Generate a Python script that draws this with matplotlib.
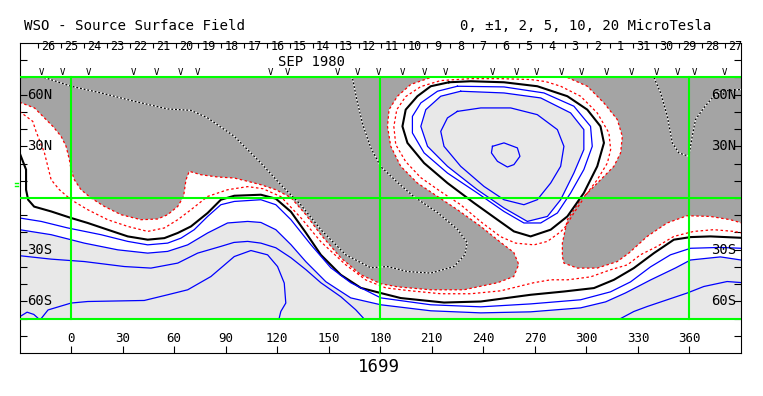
import matplotlib
matplotlib.use('Agg')
import matplotlib.pyplot as plt
import numpy as np

# --- data: (carrington longitude, latitude) ---
rotation = 1699
month_label = 'SEP 1980'
days = [26, 25, 24, 23, 22, 21, 20, 19, 18, 17, 16, 15, 14, 13, 12, 11, 10,
        9, 8, 7, 6, 5, 4, 3, 2, 1, 31, 30, 29, 28, 27]
day_lon0 = -19.1      # longitude of the first day boundary
day_step = 13.32      # degrees of longitude per day
obs_lons = [-17.4, -4.8, 10.1, 36.2, 49.8, 63.4, 73.3, 116.3, 126.2, 155.3,
            166.9, 179.1, 193.1, 205.9, 218.1, 245.4, 259.4, 271.0, 285.5,
            297.2, 311.7, 326.3, 340.8, 353.1, 363.0, 380.4]

# +2 contour, edge of the positive (dark) region
pos2_west = [(-30, 55.6), (-21.3, 52.3), (-15.5, 46.5), (-10.6, 41.6), (-5.8, 35.8),
             (-2.9, 30.0), (-1.0, 22.3), (0.0, 16.5), (1.9, 10.6), (5.8, 4.8),
             (11.6, 0.0), (19.4, -4.9), (29.1, -9.7), (40.7, -12.6), (50.4, -12.2),
             (56.2, -9.7), (62.1, -4.9), (65.5, 0.9), (66.9, 10.6), (68.8, 15.5),
             (75.6, 13.5), (85.3, 12.2), (95.0, 11.6), (102.8, 9.7), (110.5, 7.7),
             (119.2, 4.8), (128.0, 0.2), (136.7, -9.7), (145.4, -21.3), (157.0, -34.7),
             (168.7, -44.6), (180.3, -49.8), (190.2, -51.6), (209.4, -53.3),
             (228.6, -53.3), (248.3, -49.2), (257.7, -45.6), (260.6, -38.6),
             (257.7, -31.6), (250.1, -25.8), (238.5, -16.5), (224.9, -6.8),
             (213.3, 0.9), (201.6, 8.7), (191.9, 18.4), (186.1, 30.0), (184.2, 41.6),
             (185.1, 51.3), (190.0, 59.1), (197.7, 65.9), (209.4, 70)]
pos2_east = [(288.9, 70), (300.5, 64.9), (310.2, 55.2), (318.0, 45.5), (320.9, 35.8),
             (319.9, 26.2), (316.0, 18.4), (304.4, 6.7), (296.6, -1.0), (288.9, -12.6),
             (286.0, -26.2), (286.0, -34.0), (286.9, -37.8), (294.7, -40.7),
             (306.3, -40.7), (318.0, -36.9), (324.7, -32.0), (335.4, -22.3),
             (347.0, -14.5), (358.6, -10.3), (372.1, -10.7), (383.8, -12.6), (390, -14.4)]

# +1 contour
pos1_south = [(-30, 50.3), (-22.3, 44.5), (-20.4, 38.7), (-15.5, 26.2), (-11.6, 10.6),
              (-6.8, 4.8), (0.0, -1.0), (9.7, -6.8), (21.3, -12.6), (33.0, -16.5),
              (44.6, -19.4), (54.3, -17.4), (62.1, -12.6), (69.8, -6.8), (79.5, 0.9),
              (91.1, 4.8), (102.8, 6.6), (111.7, 5.4), (122.1, 0.8), (133.7, -11.4),
              (145.4, -25.4), (159.9, -38.8), (171.6, -47.6), (183.2, -52.2),
              (197.7, -53.9), (215.2, -55.6), (232.6, -55.6), (250.1, -53.9),
              (269.3, -49.2), (279.2, -47.5), (289.1, -47.5), (302.4, -45.8),
              (314.0, -41.7), (323.9, -38.8), (331.4, -33.0), (341.2, -28.1),
              (350.9, -22.3), (362.5, -19.4), (374.1, -18.4), (385.8, -19.4), (390, -20.2)]
pos1_island = [(285.0, 64.9), (296.6, 59.1), (306.3, 49.4), (313.1, 37.8), (314.1, 28.1),
               (312.2, 20.3), (306.3, 10.6), (300.5, 2.9), (292.7, -8.7), (287.9, -16.5),
               (285.0, -19.6), (277.3, -25.2), (269.5, -27.2), (258.8, -26.2),
               (250.1, -22.5), (238.5, -13.8), (226.8, -3.9), (215.2, 3.7), (203.6, 11.8),
               (194.8, 21.1), (189.0, 31.0), (187.9, 41.5), (189.6, 51.3), (194.8, 58.9),
               (203.6, 64.7), (215.2, 68.2), (232.6, 69.3), (250.1, 69.3), (267.5, 68.8),
               (276.3, 67.6), (285.0, 64.9)]

# neutral line (0)
zero_south = [(-30, 26.3), (-26.2, 16.5), (-26.2, 4.8), (-25.0, -1.0), (-21.5, -5.0),
              (-11.6, -7.8), (0.0, -11.6), (9.7, -14.5), (21.3, -18.4), (33.0, -22.3),
              (44.6, -24.2), (54.3, -23.3), (62.1, -20.3), (69.8, -16.5), (79.5, -8.7),
              (87.2, -1.0), (95.0, 1.3), (110.5, 1.9), (119.2, -0.4), (128.0, -8.0),
              (136.7, -20.2), (145.4, -33.0), (157.0, -44.6), (168.7, -52.2),
              (180.3, -55.2), (191.9, -58.1), (217.1, -60.7), (238.5, -60.1),
              (267.5, -56.2), (286.9, -54.3), (304.4, -52.3), (316.0, -47.5),
              (327.6, -40.7), (339.3, -32.0), (350.9, -24.2), (360.6, -22.7),
              (372.2, -22.3), (390, -23.1)]
zero_island = [(220.0, 67.2), (232.7, 67.8), (252.0, 67.2), (271.4, 64.9), (288.9, 59.1),
               (300.5, 51.3), (308.2, 41.6), (310.2, 32.0), (306.3, 18.4), (298.5, 2.9),
               (288.9, -10.7), (279.2, -18.4), (267.5, -22.3), (257.8, -19.4),
               (248.2, -12.6), (234.6, -2.9), (219.1, 8.7), (205.5, 20.3), (195.8, 32.0),
               (192.9, 41.6), (194.8, 51.3), (201.6, 59.1), (209.4, 64.9), (220.0, 67.2)]

# -1 contour
neg1_south = [(-30, -11.6), (-17.4, -13.6), (-1.9, -17.4), (17.4, -21.3), (33.0, -25.2),
              (44.6, -27.2), (56.2, -26.2), (64.0, -23.3), (71.7, -18.4), (79.5, -10.7),
              (87.2, -3.9), (95.0, -2.0), (110.5, -1.0), (119.2, -3.9), (128.0, -12.6),
              (139.6, -27.1), (151.2, -40.5), (162.8, -49.2), (180.3, -58.0),
              (209.4, -62.0), (238.5, -63.2), (267.5, -61.5), (296.6, -59.1),
              (314.0, -54.5), (325.7, -48.7), (337.3, -40.0), (348.9, -33.0),
              (360.6, -29.2), (378.0, -28.7), (390, -29.2)]
neg1_island = [(224.9, 64.9), (252.0, 64.5), (275.3, 61.0), (292.7, 53.3), (302.4, 41.6),
               (303.4, 30.0), (298.5, 16.5), (290.8, 2.9), (283.1, -8.7), (273.4, -14.5),
               (263.6, -14.5), (252.0, -7.8), (236.5, 2.9), (219.1, 14.5), (205.5, 26.2),
               (198.7, 37.8), (198.7, 47.4), (203.6, 55.2), (213.3, 62.0), (224.9, 64.9)]

# -2 contour, edge of the negative (light) region
neg2_south = [(-30, -18.4), (-11.6, -21.3), (7.7, -26.2), (27.2, -30.1), (44.6, -32.0),
              (56.2, -31.0), (67.9, -27.2), (79.5, -20.3), (91.1, -14.5), (102.8, -13.6),
              (110.5, -14.2), (119.2, -18.4), (128.0, -27.1), (136.7, -37.0),
              (148.3, -48.6), (162.8, -58.0), (180.3, -62.0), (209.4, -65.5),
              (238.5, -66.7), (267.5, -66.1), (296.6, -63.8), (311.2, -60.3),
              (322.8, -55.1), (337.3, -47.6), (351.9, -40.6), (360.6, -36.0),
              (378.0, -34.2), (390, -36.0)]
neg2_island = [(226.8, 62.0), (252.0, 61.0), (273.4, 58.1), (290.8, 49.4), (298.5, 39.7),
               (298.5, 28.1), (292.7, 14.5), (285.0, -1.0), (277.3, -10.7), (265.6, -13.6),
               (252.0, -5.8), (236.5, 4.8), (219.1, 18.4), (207.5, 30.0), (203.6, 41.6),
               (206.5, 51.3), (215.2, 59.1), (226.8, 62.0)]

# -5 contour
neg5_west = [(-30, -33.5), (-11.6, -35.5), (7.7, -36.9), (31.0, -39.8), (46.5, -40.7),
             (62.1, -37.8), (73.7, -32.0), (87.2, -28.1), (94.8, -25.8), (102.8, -25.2),
             (110.5, -26.2), (119.2, -28.9), (128.0, -34.7), (136.7, -41.6),
             (145.4, -49.2), (157.0, -57.3), (165.7, -64.9), (170.4, -70)]
neg5_east = [(319.9, -70), (327.6, -65.9), (335.4, -63.0), (347.0, -59.1), (358.6, -55.2),
             (368.3, -51.4), (381.9, -48.5), (390, -49.1)]
neg5_island = [(224.9, 50.3), (238.5, 52.3), (255.9, 52.3), (271.4, 48.4), (283.1, 39.7),
               (286.9, 30.0), (285.0, 18.4), (279.2, 8.7), (271.4, -1.0), (263.6, -3.9),
               (252.0, -1.0), (240.4, 6.7), (226.8, 18.4), (217.1, 30.0), (215.2, 38.7),
               (219.1, 46.5), (224.9, 50.3)]

# -10 contour
neg10_south = [(-17.4, -70), (-13.4, -65.0), (0.0, -61.0), (9.7, -60.1), (42.6, -59.5),
               (56.2, -56.2), (67.9, -53.3), (81.4, -45.6), (95.0, -34.0), (104.7, -30.5),
               (114.4, -33.0), (120.2, -39.8), (124.1, -49.4), (125.0, -61.0),
               (122.1, -65.9), (121.1, -70)]
neg10_corner = [(-30, -69.0), (-25.6, -66.3), (-21.7, -67.6), (-19.0, -70)]
neg10_island = [(245.3, 30.0), (252.0, 32.0), (259.8, 29.1), (261.3, 24.2), (257.8, 19.4),
                (254.0, 18.0), (248.2, 21.3), (244.7, 26.2), (245.3, 30.0)]

# +5 contour
pos5_west = [(-15.7, 70), (0.0, 64.9), (17.4, 61.0), (36.6, 56.2), (56.2, 51.7),
             (69.8, 50.9), (79.5, 46.5), (95.0, 35.8), (110.5, 20.3), (122.1, 7.7),
             (133.7, -3.9), (145.4, -18.4), (159.9, -33.0), (174.5, -40.5),
             (184.2, -39.8), (195.8, -42.7), (209.4, -43.6), (222.9, -39.8),
             (229.2, -33.0), (230.6, -26.0), (225.1, -18.4), (213.4, -8.5), (199.5, 0.8),
             (190.2, 8.9), (180.3, 18.2), (174.5, 29.1), (169.8, 42.6), (166.3, 57.2),
             (164.0, 68.8), (163.4, 70)]
pos5_east = [(339.3, 70), (343.2, 61.0), (347.1, 47.4), (350.0, 32.0), (353.8, 26.2),
             (359.6, 24.2), (361.6, 35.8), (363.5, 45.5), (368.3, 52.3), (374.1, 59.1),
             (378.0, 62.0), (390, 63.0)]

grid_lons = [0, 180, 360]
grid_lats = [-70, 0, 70]
lon_ticks = [0, 30, 60, 90, 120, 150, 180, 210, 240, 270, 300, 330, 360]
lat_labels = [(60, '60N'), (30, '30N'), (-30, '30S'), (-60, '60S')]

DARK = '#a4a4a4'
LIGHT = '#e8e8e8'
MONO = 'DejaVu Sans Mono'


def xy(pts):
    a = np.array(pts, dtype=float)
    return a[:, 0], a[:, 1]


fig = plt.figure(figsize=(7.63, 3.96), dpi=100)
ax = fig.add_axes([0.0256, 0.1086, 0.9456, 0.7828])
ax.set_xlim(-30, 390)
ax.set_ylim(-90, 90)

# shaded polarity regions
x, y = xy([(-30, 70)] + pos2_west)
ax.fill(x, y, color=DARK, lw=0, zorder=1)
x, y = xy(pos2_east + [(390, 70)])
ax.fill(x, y, color=DARK, lw=0, zorder=1)
x, y = xy(neg2_south + [(390, -70), (-30, -70)])
ax.fill(x, y, color=LIGHT, lw=0, zorder=1)
x, y = xy(neg2_island)
ax.fill(x, y, color=LIGHT, lw=0, zorder=1)

# contour lines
for line in [pos2_west, pos2_east, pos1_south, pos1_island]:
    x, y = xy(line)
    ax.plot(x, y, color='red', lw=0.9, ls=(0, (2, 2)), zorder=2)
for line in [zero_south, zero_island]:
    x, y = xy(line)
    ax.plot(x, y, color='black', lw=1.5, zorder=2)
for line in [neg1_south, neg1_island, neg2_south, neg2_island, neg5_west, neg5_east,
             neg5_island, neg10_south, neg10_corner, neg10_island]:
    x, y = xy(line)
    ax.plot(x, y, color='blue', lw=0.9, zorder=2)
for line in [pos5_west, pos5_east]:
    x, y = xy(line)
    ax.plot(x, y, color='white', lw=0.9, zorder=2)
    ax.plot(x, y, color='black', lw=0.9, ls=(0, (1.5, 1.5)), zorder=2)

# green grid
for lon in grid_lons:
    ax.plot([lon, lon], [-70, 70], color='#00ff00', lw=1.5, zorder=3)
for lat in grid_lats:
    ax.plot([-30, 390], [lat, lat], color='#00ff00', lw=1.5, zorder=3)

# frame ticks
ax.set_xticks(lon_ticks)
ax.set_yticks(np.arange(-80, 81, 10))
ax.tick_params(axis='x', direction='in', length=5, width=0.8, labelbottom=False,
               top=False)
ax.tick_params(axis='y', direction='in', length=5, width=0.8, left=True, right=True,
               labelleft=False)
for s in ax.spines.values():
    s.set_linewidth(0.8)

for lon in lon_ticks:
    ax.text(lon, -81.3, str(lon), ha='center', va='center', fontsize=9,
            family=MONO, zorder=4)
for lat, lab in lat_labels:
    ax.text(-25.5, lat, lab, ha='left', va='center', fontsize=10, family=MONO, zorder=4)
    ax.text(387, lat, lab, ha='right', va='center', fontsize=10, family=MONO, zorder=4)

# day boundaries and dates along the top
day_edges = day_lon0 + day_step * np.arange(len(days))
ax.vlines(day_edges, 87, 90, color='black', lw=0.8)
for lon, d in zip(day_edges, days):
    ax.text(lon + day_step * 0.45, 87.7, str(d), ha='center', va='center',
            fontsize=8.5, family=MONO)
ax.text(140, 79, month_label, ha='center', va='center', fontsize=10, family=MONO)
for lon in obs_lons:
    ax.text(lon, 72.6, 'V', ha='center', va='center', fontsize=6.5, family=MONO)

# B0 marks outside the frame
ax.plot([-32.5, -30.8], [8.5, 8.5], color='#00ff00', lw=1, clip_on=False)
ax.plot([-32.5, -30.8], [6.8, 6.8], color='#00ff00', lw=1, clip_on=False)

fig.text(24 / 763, 1 - 26 / 396, 'WSO - Source Surface Field', ha='left', va='center',
         fontsize=10.2, family=MONO)
fig.text(711 / 763, 1 - 26 / 396, '0, \u00b11, 2, 5, 10, 20 MicroTesla', ha='right',
         va='center', fontsize=10.1, family=MONO)
fig.text(379 / 763, 1 - 367 / 396, str(rotation), ha='center', va='center',
         fontsize=12.5, family=MONO)

plt.savefig('out.png', dpi=100)
